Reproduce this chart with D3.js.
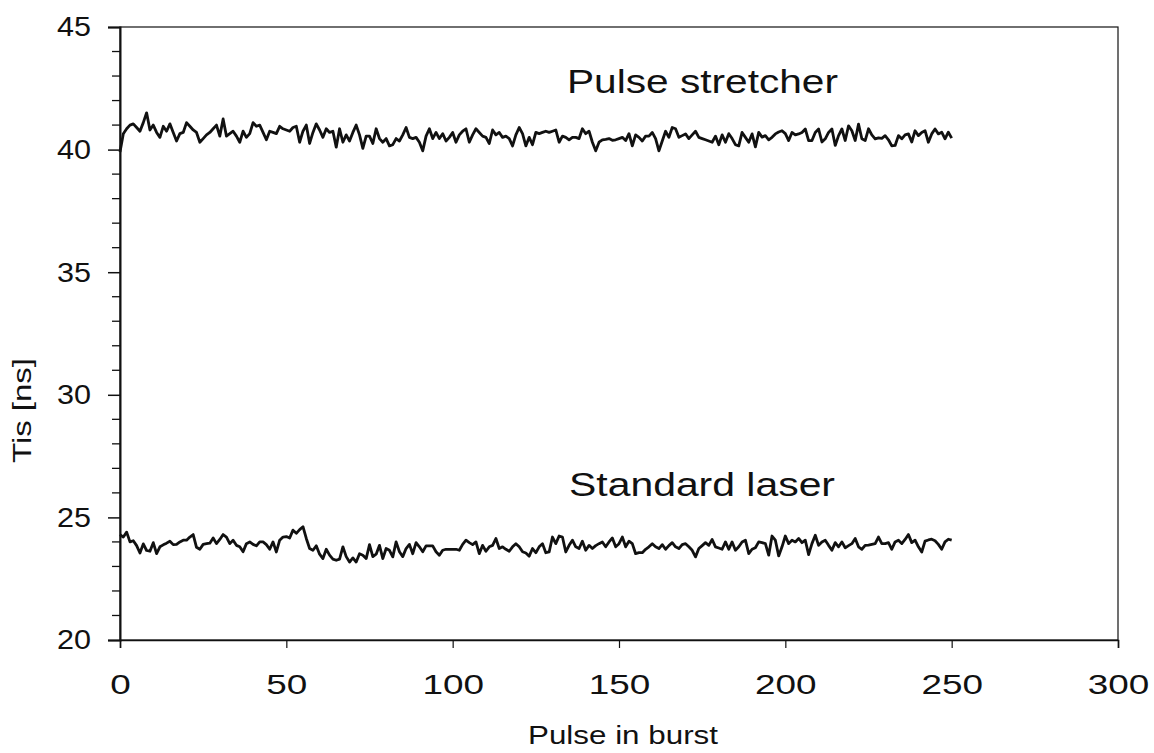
<!DOCTYPE html>
<html><head><meta charset="utf-8">
<script src="https://cdn.jsdelivr.net/npm/d3@7"></script>
<style>html,body{margin:0;padding:0;background:#fff;}svg{display:block;}</style>
</head><body>
<script>
const stretcher = [
39.9,40.65,40.85,41.0,41.05,40.9,40.75,41.1,41.5,40.8,
41.0,40.7,40.5,40.95,40.75,41.05,40.7,40.35,40.65,40.7,
41.1,40.95,40.8,40.7,40.3,40.45,40.6,40.7,40.85,41.0,
40.55,41.25,40.55,40.65,40.75,40.55,40.3,40.75,40.5,40.65,
41.1,40.95,41.0,40.7,40.4,40.75,40.7,40.65,40.95,40.85,
40.8,40.75,40.9,40.95,40.3,40.75,41.0,40.25,40.7,41.05,
40.8,40.5,40.85,40.7,40.75,40.1,40.85,40.3,40.6,40.35,
40.7,41.0,40.6,40.05,40.55,40.55,40.25,40.85,40.45,40.3,
40.45,40.15,40.2,40.45,40.35,40.6,40.9,40.5,40.45,40.5,
40.3,39.95,40.55,40.85,40.45,40.7,40.45,40.65,40.35,40.5,
40.7,40.3,40.6,40.75,40.85,40.3,40.6,40.85,40.7,40.55,
40.5,40.25,40.8,40.6,40.7,40.5,40.55,40.45,40.15,40.6,
40.9,40.65,40.15,40.5,40.2,40.7,40.65,40.7,40.75,40.7,
40.75,40.8,40.3,40.55,40.5,40.4,40.5,40.5,40.45,40.85,
40.65,40.75,40.3,39.95,40.3,40.4,40.42,40.45,40.38,40.4,
40.45,40.5,40.37,40.65,40.15,40.6,40.5,40.35,40.55,40.55,
40.7,40.45,39.95,40.35,40.75,40.5,40.9,40.85,40.5,40.57,
40.64,40.45,40.6,40.75,40.5,40.45,40.4,40.35,40.3,40.55,
40.2,40.6,40.3,40.65,40.45,40.2,40.15,40.7,40.5,40.3,
40.64,40.11,40.7,40.51,40.57,40.4,40.5,40.64,40.72,40.77,
40.65,40.37,40.7,40.6,40.64,40.7,40.84,40.37,40.37,40.7,
40.84,40.31,40.44,40.7,40.84,40.17,40.57,40.84,40.37,40.97,
40.77,40.37,41.04,40.44,40.37,40.85,40.6,40.44,40.48,40.46,
40.57,40.4,40.15,40.17,40.57,40.44,40.6,40.64,40.31,40.77,
40.57,40.7,40.77,40.3,40.64,40.84,40.64,40.71,40.44,40.71,
40.47];
const standard = [
24.3,24.2,24.4,24.0,24.05,23.85,23.55,23.92,23.65,23.62,
23.97,23.52,23.8,23.88,23.95,24.03,23.89,23.9,24.0,24.07,
24.07,24.2,24.3,23.78,23.7,23.9,23.93,23.95,24.16,23.93,
24.1,24.3,24.2,23.93,24.07,23.86,23.8,23.6,23.93,24.0,
23.9,23.84,24.0,24.0,23.89,23.7,24.0,23.59,24.07,24.2,
24.22,24.16,24.48,24.35,24.5,24.62,24.14,23.73,23.66,23.84,
23.5,23.32,23.7,23.46,23.3,23.25,23.3,23.8,23.4,23.18,
23.35,23.18,23.52,23.46,23.32,23.89,23.4,23.5,23.86,23.32,
23.73,23.66,23.39,24.0,23.6,23.4,23.73,23.9,23.52,23.97,
23.8,23.6,23.84,23.84,23.84,23.6,23.46,23.66,23.7,23.7,
23.7,23.7,23.66,23.9,24.07,23.97,23.89,24.0,23.52,23.86,
23.62,23.8,23.86,24.14,23.73,23.8,23.7,23.62,23.8,23.93,
23.8,23.6,23.55,23.42,23.73,23.56,23.8,23.93,23.56,23.59,
24.2,23.93,24.24,24.2,23.59,23.86,24.07,23.8,23.73,24.03,
23.66,23.86,23.73,23.85,23.93,24.0,23.8,24.0,24.16,23.8,
23.93,24.2,23.8,24.03,23.93,23.52,23.56,23.56,23.7,23.8,
23.93,23.8,23.73,23.89,23.7,23.85,23.97,23.8,23.73,23.89,
23.93,23.8,23.66,23.39,23.73,23.85,23.97,23.86,24.1,23.8,
23.75,23.7,24.0,23.7,24.0,23.66,23.8,24.0,24.07,23.52,
23.7,23.76,24.0,23.97,23.93,23.46,24.24,24.07,23.43,23.8,
24.24,23.93,24.07,24.0,24.14,23.97,24.07,23.48,23.93,24.27,
23.86,24.0,24.07,23.86,23.66,23.97,23.8,24.0,23.76,23.85,
23.93,24.14,23.8,23.7,23.86,23.87,23.9,23.93,24.2,23.93,
23.93,23.97,23.7,24.0,24.07,23.93,24.1,24.3,23.97,24.07,
23.8,23.59,24.03,24.08,24.11,24.05,23.9,23.7,24.0,24.11,
24.07];
const pulseIndex = d3.range(0, stretcher.length);
const xTicks = [0, 50, 100, 150, 200, 250, 300];
const yTicks = [20, 25, 30, 35, 40, 45];
const yMinor = d3.range(20, 46, 1);
const seriesLabels = ["Pulse stretcher", "Standard laser"];
const xTitle = "Pulse in burst";
const yTitle = "Tis [ns]";

const W = 1154, H = 753;
const L = 120, R = 1118, T = 27, B = 640;
const svg = d3.select("body").append("svg").attr("width", W).attr("height", H);
const x = d3.scaleLinear().domain([0, 300]).range([L, R]);
const y = d3.scaleLinear().domain([20, 45]).range([B, T]);
const font = "Liberation Sans, Arial, sans-serif";

// frame
svg.append("rect").attr("x", L).attr("y", T).attr("width", R - L).attr("height", B - T)
  .attr("fill", "none").attr("stroke", "#111").attr("stroke-width", 1.2);

// y axis
const ya = svg.append("g").attr("transform", `translate(${L},0)`)
  .call(d3.axisLeft(y).tickValues(yTicks).tickSize(12).tickPadding(17).tickFormat(d3.format("d")));
ya.select(".domain").attr("stroke", "#111").attr("stroke-width", 2);
ya.selectAll(".tick line").attr("stroke", "#111").attr("stroke-width", 1.5);
ya.selectAll(".tick text").attr("font-family", font).attr("font-size", 28).attr("fill", "#111")
  .attr("textLength", 34).attr("lengthAdjust", "spacingAndGlyphs");
svg.append("g").selectAll("line").data(yMinor.filter(v => !yTicks.includes(v))).join("line")
  .attr("x1", L - 8).attr("x2", L).attr("y1", d => y(d)).attr("y2", d => y(d))
  .attr("stroke", "#111").attr("stroke-width", 1.3);

// x axis
const xa = svg.append("g").attr("transform", `translate(0,${B})`)
  .call(d3.axisBottom(x).tickValues(xTicks).tickSize(8).tickPadding(26).tickFormat(d3.format("d")));
xa.select(".domain").attr("stroke", "#111").attr("stroke-width", 1.6);
xa.selectAll(".tick line").attr("stroke", "#111").attr("stroke-width", 1.2);
xa.selectAll(".tick text").attr("font-family", font).attr("font-size", 28).attr("fill", "#111")
  .attr("textLength", d => String(d).length * 20.5).attr("lengthAdjust", "spacingAndGlyphs");

// lines
const line = d3.line().x((d, i) => x(pulseIndex[i])).y(d => y(d));
[stretcher, standard].forEach(s => {
  svg.append("path").datum(s).attr("d", line).attr("fill", "none")
    .attr("stroke", "#111").attr("stroke-width", 2.8).attr("stroke-linejoin", "round");
});

// annotations
svg.append("text").attr("x", 567).attr("y", 93).attr("font-family", font).attr("font-size", 34)
  .attr("textLength", 271).attr("lengthAdjust", "spacingAndGlyphs").attr("fill", "#111").text(seriesLabels[0]);
svg.append("text").attr("x", 569).attr("y", 496).attr("font-family", font).attr("font-size", 34)
  .attr("textLength", 266).attr("lengthAdjust", "spacingAndGlyphs").attr("fill", "#111").text(seriesLabels[1]);

// axis titles
svg.append("text").attr("x", 528).attr("y", 744).attr("font-family", font).attr("font-size", 25)
  .attr("textLength", 190).attr("lengthAdjust", "spacingAndGlyphs").attr("fill", "#111").text(xTitle);
svg.append("text").attr("transform", "translate(31,463) rotate(-90)").attr("font-family", font).attr("font-size", 25)
  .attr("textLength", 105).attr("lengthAdjust", "spacingAndGlyphs").attr("fill", "#111").text(yTitle);
</script>
</body></html>
